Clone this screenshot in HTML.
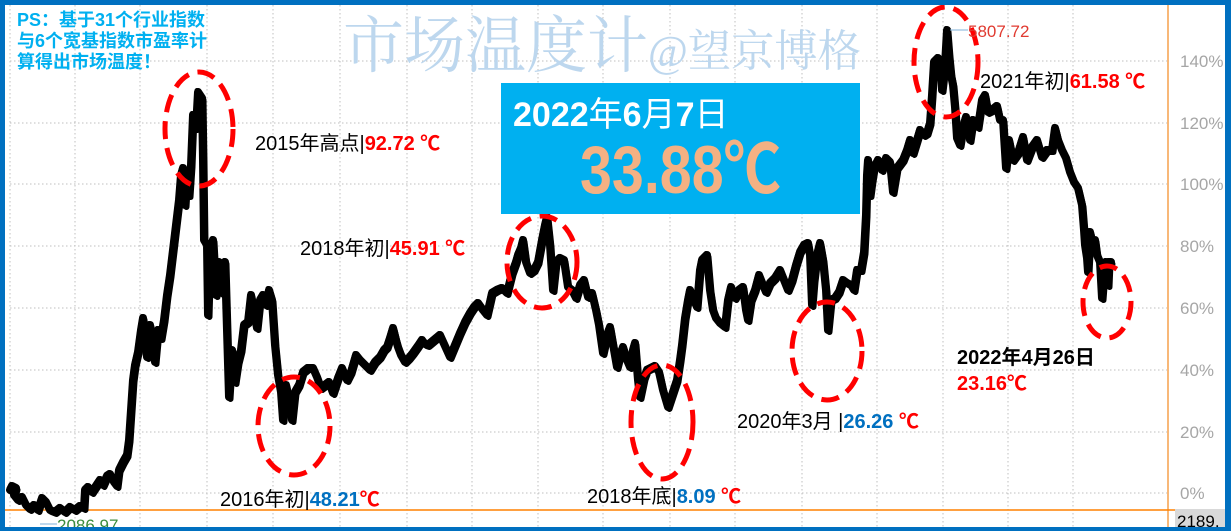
<!DOCTYPE html>
<html><head><meta charset="utf-8"><style>
html,body{margin:0;padding:0;background:#fff;}
svg{display:block;}
</style></head><body>
<svg width="1231" height="531" viewBox="0 0 1231 531" xmlns="http://www.w3.org/2000/svg">
<defs>
<polyline id="ser" fill="none" stroke-linejoin="round" stroke-linecap="round" points="
10,490 12,486 16,488 14,495 18,500 22,497 26,505 30,509 34,505 38,510 42,498 46,502 50,510 55,512 60,508 65,512 70,507 75,510 80,506 84,508 85,490 88,487 92,492 96,486 100,480 103,485 107,476 110,474 114,482 117,486 119,470 123,462 127,455 129,440 131,410 133,380 135,365 138,352 141,330 143,318 145,335 147,357 150,325 153,345 155,362 158,330 161,338 164,320 167,295 170,275 173,250 176,225 179,200 181,175 183,168 185,205 187,172 189,195 191,165 193,115 196,128 198,92 202,98 203,160 204,240 207,245 208,315 210,248 213,240 216,295 219,262 222,293 225,262 227,330 229,397 232,350 235,382 238,362 241,350 244,325 248,322 251,295 254,312 257,328 260,300 263,295 266,305 269,290 272,300 275,345 278,375 281,392 283,420 286,385 289,400 292,420 295,392 299,385 303,372 308,368 313,368 317,377 321,388 325,385 329,382 333,393 338,378 342,368 347,380 351,372 356,355 360,360 365,365 370,370 375,362 380,357 384,350 387,347 390,338 393,328 396,340 398,347 401,355 405,362 409,358 413,353 418,346 422,340 425,344 428,345 434,340 440,335 445,346 450,357 455,345 460,333 465,322 470,313 474,307 478,303 483,310 487,315 490,302 492,293 497,290 502,288 507,293 510,281 512,273 516,262 518,255 521,248 523,240 526,262 530,273 534,270 538,262 542,240 545,225 547,217 550,245 553,290 556,262 560,258 564,260 568,287 572,290 576,298 580,285 584,280 588,297 592,293 596,310 599,325 603,353 607,335 610,327 614,350 617,367 620,355 623,347 627,360 630,367 633,350 635,343 638,380 640,397 644,378 647,370 651,368 655,366 659,372 663,390 668,407 672,395 677,380 680,360 682,345 685,318 688,300 690,290 694,300 697,307 700,270 702,260 707,255 710,290 713,310 716,318 720,323 725,327 728,300 731,287 735,298 739,290 743,287 746,310 748,320 751,300 755,290 759,275 763,285 766,292 770,283 775,278 780,270 784,280 788,290 792,280 796,265 800,252 804,245 808,243 810,255 812,305 814,280 817,255 820,243 823,260 826,290 828,330 831,300 835,298 839,292 843,280 847,283 851,285 854,290 857,270 861,270 864,252 866,215 867,175 868,160 870,195 872,180 874,168 878,160 882,170 886,158 890,162 893,192 897,168 903,160 907,150 910,140 913,153 917,140 920,130 924,135 927,133 930,123 932,95 934,62 938,58 941,70 942,90 945,65 947,30 949,55 951,75 953,85 955,107 957,138 960,145 963,127 966,117 970,140 973,120 978,127 982,100 985,95 988,112 992,110 997,106 1000,120 1003,120 1006,168 1009,140 1013,160 1018,153 1023,137 1027,160 1032,147 1037,140 1042,157 1047,150 1052,150 1055,128 1058,140 1062,150 1066,158 1070,172 1074,182 1078,188 1082,205 1084,230 1085,245 1087,258 1088,272 1090,232 1093,245 1095,240 1097,255 1100,262 1102,298 1104,272 1106,262 1108,285 1109,262 1111,262"/>
</defs>
<rect x="0" y="0" width="1231" height="531" fill="#ffffff"/>
<!-- gridlines -->
<g stroke="#bfbfbf" stroke-width="1" stroke-dasharray="1.5 2.5" fill="none">
<line x1="10" y1="61" x2="1168" y2="61"/>
<line x1="10" y1="123" x2="1168" y2="123"/>
<line x1="10" y1="184" x2="1168" y2="184"/>
<line x1="10" y1="246" x2="1168" y2="246"/>
<line x1="10" y1="308" x2="1168" y2="308"/>
<line x1="10" y1="370" x2="1168" y2="370"/>
<line x1="10" y1="432" x2="1168" y2="432"/>
<line x1="10" y1="493" x2="1168" y2="493"/>
<line x1="10" y1="5" x2="10" y2="527"/>
<line x1="75" y1="5" x2="75" y2="527"/>
<line x1="140" y1="5" x2="140" y2="527"/>
<line x1="207" y1="5" x2="207" y2="527"/>
<line x1="273" y1="5" x2="273" y2="527"/>
<line x1="340" y1="5" x2="340" y2="527"/>
<line x1="407" y1="5" x2="407" y2="527"/>
<line x1="472" y1="5" x2="472" y2="527"/>
<line x1="538" y1="5" x2="538" y2="527"/>
<line x1="603" y1="5" x2="603" y2="527"/>
<line x1="670" y1="5" x2="670" y2="527"/>
<line x1="735" y1="5" x2="735" y2="527"/>
<line x1="802" y1="5" x2="802" y2="527"/>
<line x1="877" y1="5" x2="877" y2="527"/>
<line x1="943" y1="5" x2="943" y2="527"/>
<line x1="1008" y1="5" x2="1008" y2="527"/>
<line x1="1073" y1="5" x2="1073" y2="527"/>
</g>
<!-- watermark -->
<text x="343" y="67" font-family="Liberation Serif, Noto Serif CJK SC, serif" font-size="62" fill="#bdd7ee" textLength="305" lengthAdjust="spacingAndGlyphs">市场温度计</text>
<text x="648" y="66" font-family="Liberation Serif, Noto Serif CJK SC, serif" font-size="44" fill="#bdd7ee" textLength="213" lengthAdjust="spacingAndGlyphs">@望京博格</text>
<!-- orange lines -->
<line x1="1168" y1="5" x2="1168" y2="527" stroke="#f8b878" stroke-width="2"/>
<line x1="5" y1="510" x2="1175" y2="510" stroke="#ff8000" stroke-width="1.5"/>
<!-- right axis labels -->
<g font-family="Liberation Sans, sans-serif" font-size="17" fill="#a6a6a6">
<text x="1180" y="67">140%</text>
<text x="1180" y="129">120%</text>
<text x="1180" y="190">100%</text>
<text x="1180" y="252">80%</text>
<text x="1180" y="314">60%</text>
<text x="1180" y="376">40%</text>
<text x="1180" y="438">20%</text>
<text x="1180" y="499">0%</text>
</g>
<!-- series -->
<use href="#ser" stroke="#000" stroke-width="8"/>
<use href="#ser" stroke="#000" stroke-width="6" transform="translate(1.5,2)"/>
<use href="#ser" stroke="#000" stroke-width="5" transform="translate(-1,-1.5)"/>
<!-- ellipses -->
<g fill="none" stroke="#ff0000" stroke-width="5" stroke-dasharray="18 9">
<ellipse cx="199" cy="129" rx="34" ry="57"/>
<ellipse cx="294" cy="426" rx="36" ry="49"/>
<ellipse cx="542" cy="262" rx="35" ry="46"/>
<ellipse cx="662" cy="422" rx="31" ry="57"/>
<ellipse cx="827" cy="351" rx="35" ry="49"/>
<ellipse cx="946" cy="62" rx="32" ry="55"/>
<ellipse cx="1107" cy="302" rx="24" ry="36"/>
</g>
<!-- PS text -->
<g font-family="Liberation Sans, Noto Sans CJK SC, sans-serif" font-size="18" font-weight="bold" fill="#00b0f0">
<text x="17" y="26">PS：基于31个行业指数</text>
<text x="17" y="47">与6个宽基指数市盈率计</text>
<text x="17" y="68">算得出市场温度！</text>
</g>
<!-- annotations -->
<g font-family="Liberation Sans, Noto Sans CJK SC, sans-serif" font-size="20">
<text x="255" y="150" fill="#000">2015年高点|<tspan fill="#ff0000" font-weight="bold">92.72 ℃</tspan></text>
<text x="300" y="255" fill="#000">2018年初|<tspan fill="#ff0000" font-weight="bold">45.91 ℃</tspan></text>
<text x="220" y="506" fill="#000">2016年初|<tspan fill="#0070c0" font-weight="bold">48.21</tspan><tspan fill="#ff0000" font-weight="bold">℃</tspan></text>
<text x="587" y="503" fill="#000">2018年底|<tspan fill="#0070c0" font-weight="bold">8.09 </tspan><tspan fill="#ff0000" font-weight="bold">℃</tspan></text>
<text x="737" y="428" fill="#000">2020年3月 |<tspan fill="#0070c0" font-weight="bold">26.26 </tspan><tspan fill="#ff0000" font-weight="bold">℃</tspan></text>
<text x="980" y="88" fill="#000">2021年初|<tspan fill="#ff0000" font-weight="bold">61.58 ℃</tspan></text>
<text x="957" y="364" fill="#000" font-weight="bold">2022年4月26日</text>
<text x="957" y="390" fill="#ff0000" font-weight="bold">23.16℃</text>
</g>
<!-- value labels -->
<line x1="950" y1="30" x2="968" y2="30" stroke="#7fb2d9" stroke-width="1"/>
<text x="968" y="37" font-family="Liberation Sans, sans-serif" font-size="17" fill="#e03a30">5807.72</text>
<line x1="40" y1="524" x2="57" y2="524" stroke="#7fb2d9" stroke-width="1"/>
<text x="57" y="531" font-family="Liberation Sans, sans-serif" font-size="17" fill="#3c8c3c">2086.97</text>
<rect x="1175" y="509" width="50" height="18" fill="#d9d9d9"/>
<text x="1177" y="527" font-family="Liberation Sans, sans-serif" font-size="17" fill="#000">2189.</text>
<!-- blue box -->
<rect x="501" y="83" width="359" height="131" fill="#00b0f0"/>
<text x="513" y="126" font-family="Liberation Sans, Noto Sans CJK SC, sans-serif" font-size="34" fill="#ffffff"><tspan font-weight="bold">2022</tspan>年<tspan font-weight="bold">6</tspan>月<tspan font-weight="bold">7</tspan>日</text>
<text x="580" y="193" font-family="Liberation Sans, Noto Sans CJK SC, sans-serif" font-size="68" font-weight="bold" fill="#f4b183" textLength="201" lengthAdjust="spacingAndGlyphs">33.88℃</text>
<!-- border -->
<rect x="0" y="0" width="1231" height="5" fill="#0070c0"/>
<rect x="0" y="0" width="5" height="531" fill="#0070c0"/>
<rect x="1225" y="0" width="6" height="531" fill="#0070c0"/>
<rect x="0" y="527" width="1231" height="4" fill="#0070c0"/>
</svg>
</body></html>
